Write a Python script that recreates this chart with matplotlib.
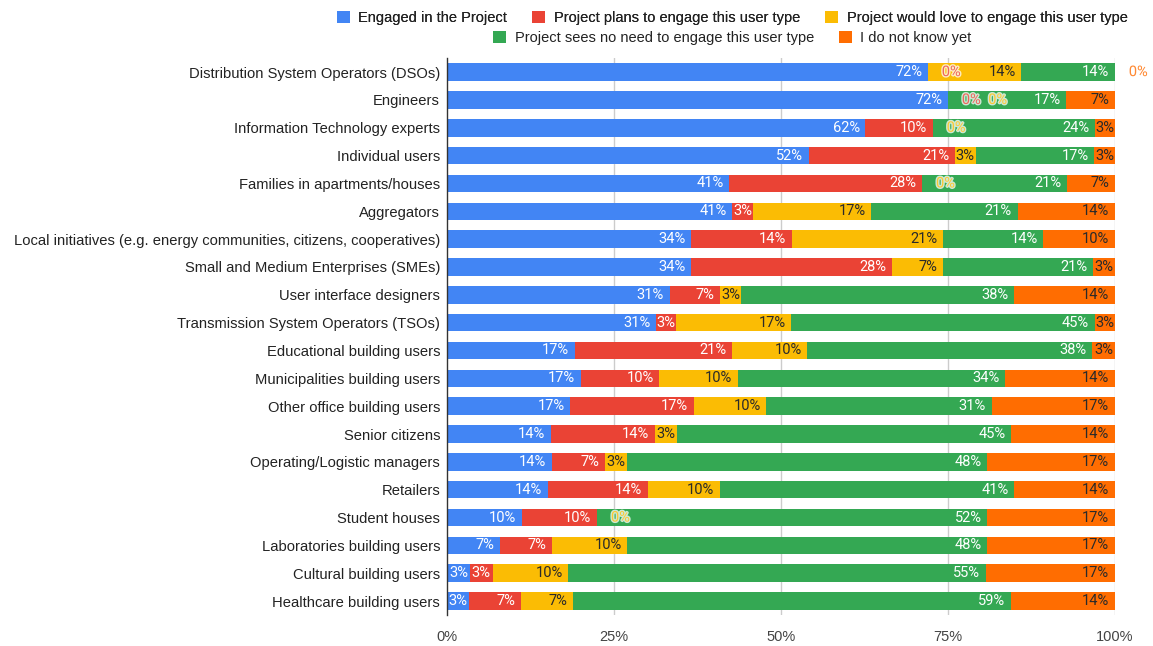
import numpy as np
import matplotlib
matplotlib.use("Agg")
import matplotlib.pyplot as plt
import matplotlib.patheffects as pe
from matplotlib.patches import Patch

plt.rcParams['font.family'] = ['Liberation Sans', 'DejaVu Sans']

categories = [
    "Distribution System Operators (DSOs)",
    "Engineers",
    "Information Technology experts",
    "Individual users",
    "Families in apartments/houses",
    "Aggregators",
    "Local initiatives (e.g. energy communities, citizens, cooperatives)",
    "Small and Medium Enterprises (SMEs)",
    "User interface designers",
    "Transmission System Operators (TSOs)",
    "Educational building users",
    "Municipalities building users",
    "Other office building users",
    "Senior citizens",
    "Operating/Logistic managers",
    "Retailers",
    "Student houses",
    "Laboratories building users",
    "Cultural building users",
    "Healthcare building users",
]

series_names = [
    "Engaged in the Project",
    "Project plans to engage this user type",
    "Project would love to engage this user type",
    "Project sees no need to engage this user type",
    "I do not know yet",
]

engaged = [72, 72, 62, 52, 41, 41, 34, 34, 31, 31, 17, 17, 17, 14, 14, 14, 10, 7, 3, 3]
plans = [0, 0, 10, 21, 28, 3, 14, 28, 7, 3, 21, 10, 17, 14, 7, 14, 10, 7, 3, 7]
would_love = [14, 0, 0, 3, 0, 17, 21, 7, 3, 17, 10, 10, 10, 3, 3, 10, 0, 10, 10, 7]
no_need = [14, 17, 24, 17, 21, 21, 14, 21, 38, 45, 38, 34, 31, 45, 48, 41, 52, 48, 55, 59]
dont_know = [0, 7, 3, 3, 7, 14, 10, 3, 14, 3, 3, 14, 17, 14, 17, 14, 17, 17, 17, 14]

colors = ["#4285F4", "#EA4335", "#FBBC04", "#34A853", "#FF6D01"]
text_colors = ["white", "white", "#2a2a2a", "white", "#2a2a2a"]
x_ticks = [0, 25, 50, 75, 100]

data = np.array([engaged, plans, would_love, no_need, dont_know], dtype=float)
shares = data / data.sum(axis=0) * 100  # 100% stacked
y = np.arange(len(categories))

fig = plt.figure(figsize=(11.53, 6.46), dpi=100)
ax = fig.add_axes([0.3877, 0.048, 0.5793, 0.862])

ax.set_xlim(0, 100)
ax.set_ylim(len(categories) - 0.5, -0.5)

left = np.zeros(len(categories))
for k in range(len(series_names)):
    ax.barh(y, shares[k], left=left, height=0.63, color=colors[k],
            label=series_names[k], zorder=2)
    left += shares[k]

label_font = dict(family=["Roboto", "DejaVu Sans"], size=10.5)
renderer = fig.canvas.get_renderer()
px_per_unit = ax.get_window_extent(renderer).width / 100.0
pad_pt = 4.0
pad_px = pad_pt * fig.dpi / 72.0

# Segment labels: right-aligned inside each segment end; zero values sit just past it
for i in range(len(categories)):
    cum = 0.0
    last_zero_x = None
    zero_shift = 0
    for k in range(len(series_names)):
        val = data[k, i]
        end = cum + shares[k, i]
        if val > 0:
            txt = ax.annotate(f"{int(val)}%", xy=(end, y[i]), xytext=(-pad_pt, 0),
                              textcoords="offset points", ha="right", va="center",
                              color=text_colors[k], zorder=4, **label_font)
            seg_px = shares[k, i] * px_per_unit
            w_px = txt.get_window_extent(renderer).width
            if seg_px < w_px + 2 * pad_px:
                # narrow segment: centre the label on it instead
                txt.xy = (cum + shares[k, i] / 2, y[i])
                txt.set_position((0, 0))
                txt.set_ha("center")
        else:
            if last_zero_x is not None and abs(last_zero_x - end) < 1e-6:
                zero_shift += 19
            else:
                zero_shift = 0
            last_zero_x = end
            ax.annotate(f"{int(val)}%", xy=(end, y[i]), xytext=(10 + zero_shift, 0),
                        textcoords="offset points", ha="left", va="center",
                        color=colors[k], alpha=0.75, zorder=5,
                        annotation_clip=False,
                        path_effects=[pe.withStroke(linewidth=2, foreground="white")],
                        **label_font)
        cum = end

ax.set_yticks(y)
ax.set_yticklabels(categories, fontsize=10.6, color="#222222")
ax.set_xticks(x_ticks)
ax.set_xticklabels([f"{t}%" for t in x_ticks], fontsize=10.5, color="#444444")
ax.tick_params(axis="both", length=0)
ax.tick_params(axis="x", pad=11)
ax.tick_params(axis="y", pad=5)
for t in x_ticks[1:]:
    ax.axvline(t, color="#cccccc", linewidth=1, zorder=1)
for side in ["top", "right", "bottom"]:
    ax.spines[side].set_visible(False)
ax.spines["left"].set_color("#333333")
ax.spines["left"].set_linewidth(1)
ax.spines["left"].set_zorder(3)

handles = [Patch(facecolor=c, edgecolor="none") for c in colors]
leg_kw = dict(frameon=False, fontsize=10.5, handlelength=0.9, handleheight=0.9,
              handletextpad=0.6, columnspacing=1.7, labelcolor="#222222")
leg1 = fig.legend(handles[:3], series_names[:3], ncol=3, loc="center",
                  bbox_to_anchor=(0.635, 0.972), **leg_kw)
fig.add_artist(leg1)
fig.legend(handles[3:], series_names[3:], ncol=2, loc="center",
           bbox_to_anchor=(0.635, 0.941), **leg_kw)

fig.savefig("out.png", dpi=100)
